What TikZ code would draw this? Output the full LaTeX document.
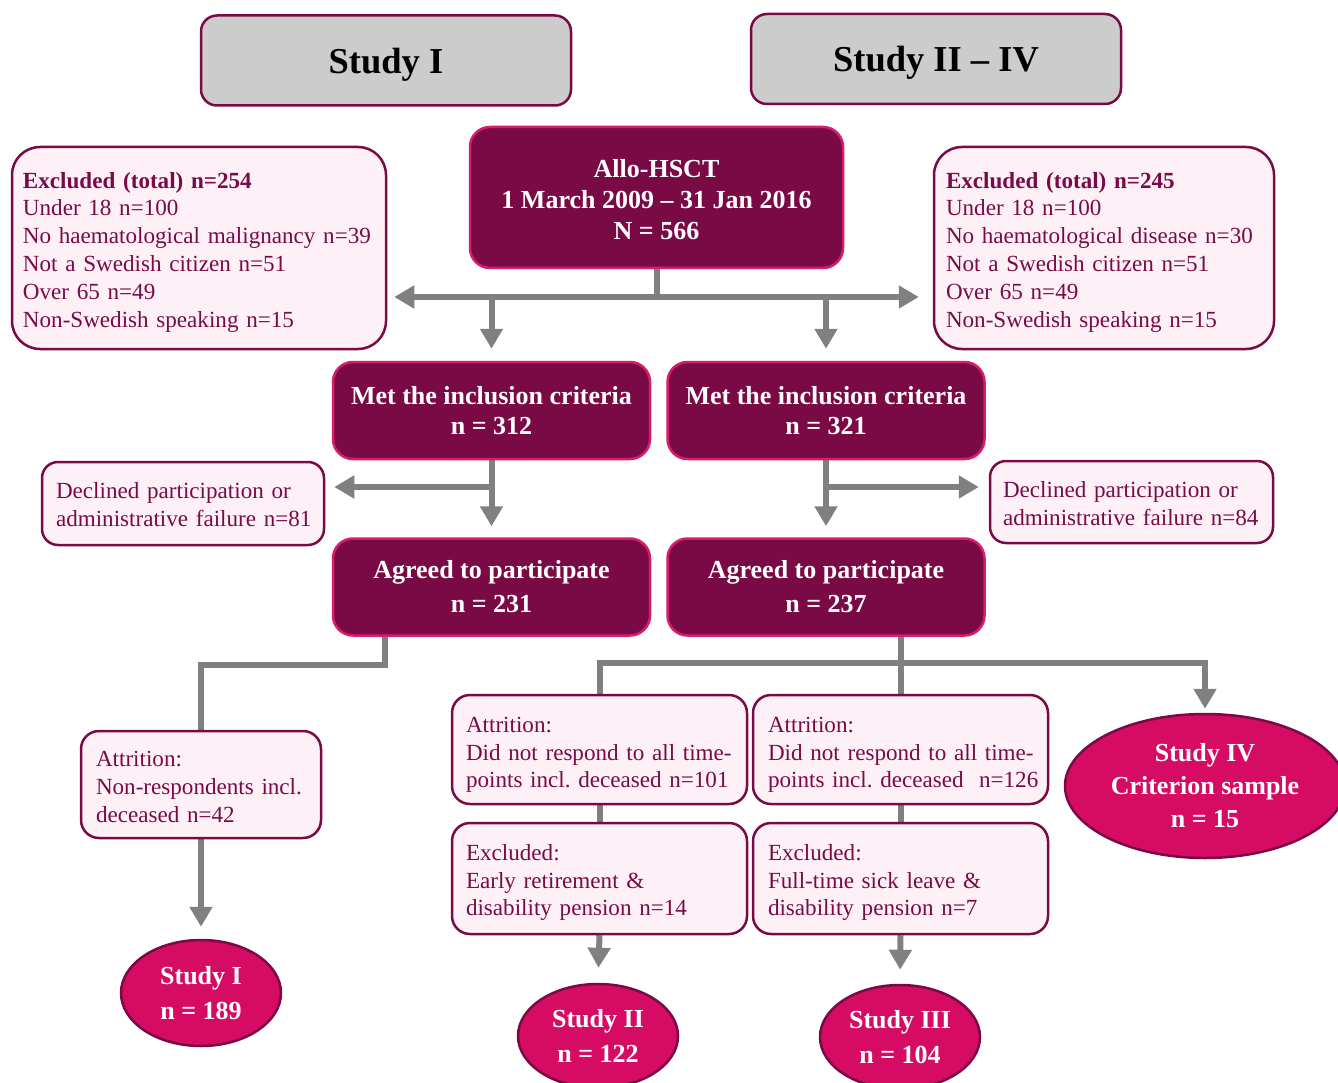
\documentclass[tikz,border=0pt]{standalone}
\usepackage{fontspec}
\setmainfont{Liberation Serif}
\usetikzlibrary{arrows.meta,shapes.geometric}

\definecolor{plum}{HTML}{7A0A46}
\definecolor{rose}{HTML}{D81B6A}
\definecolor{cerise}{HTML}{D60B63}
\definecolor{blush}{HTML}{FDF1F7}
\definecolor{headgray}{HTML}{CCCCCC}
\definecolor{flowgray}{HTML}{808080}

% first-line height, used to set where a text block sits in its box
\newcommand{\lead}[1]{\rule{0pt}{#1pt}}

\pgfdeclarelayer{bg}
\pgfsetlayers{bg,main}

\begin{document}
\begin{tikzpicture}[x=1pt,y=-1pt,
  header/.style={draw=plum, fill=headgray, line width=2.5pt, rounded corners=16pt,
    minimum width=370pt, minimum height=90pt, text=black, text depth=0pt,
    font=\fontsize{36.5}{40}\selectfont\bfseries},
  darkbox/.style={draw=rose, fill=plum, line width=2.5pt, rounded corners=20pt,
    minimum width=317pt, minimum height=97pt, inner sep=0pt,
    text=white, align=center, font=\fontsize{26}{30}\selectfont\bfseries},
  lightbox/.style={draw=plum, fill=blush, line width=2.5pt, rounded corners=18pt,
    inner ysep=0pt, text=plum, align=left,
    font=\fontsize{23.1}{27.8}\selectfont\frenchspacing},
  oval/.style={ellipse, draw=plum, fill=cerise, line width=2.5pt, inner sep=0pt,
    minimum width=160pt, minimum height=105pt,
    text=white, align=center, font=\fontsize{26}{35}\selectfont\bfseries},
  flow/.style={draw=flowgray, line width=6pt},
  arrowflow/.style={flow, -{Triangle[length=20pt,width=22pt]}},
  twoway/.style={flow, {Triangle[length=20pt,width=22pt]}-{Triangle[length=20pt,width=22pt]}},
]
\path[use as bounding box, clip] (0,0) rectangle (1338,1083);

% study headers
\node[header] (hdrI)  at (386,60.5) {Study I};
\node[header] (hdrII) at (936,59)   {Study II – IV};

% cohort
\node[darkbox, minimum width=373pt, minimum height=141pt, font=\fontsize{26}{31}\selectfont\bfseries]
  (allo) at (656.5,197.5) {\strut Allo-HSCT\\1 March 2009 – 31 Jan 2016\\N = 566};

% exclusions
\node[lightbox, rounded corners=28pt, minimum width=374pt, minimum height=202pt,
  text width=352pt, inner xsep=11pt] (exL) at (199,248)
  {\lead{24}\mbox{\textbf{Excluded (total) n=254}}\\\mbox{Under 18 n=100}\\
   \mbox{No haematological malignancy n=39}\\\mbox{Not a Swedish citizen n=51}\\
   \mbox{Over 65 n=49}\\\mbox{Non-Swedish speaking n=15}};
\node[lightbox, rounded corners=28pt, minimum width=340pt, minimum height=202pt,
  text width=316pt, inner xsep=12pt] (exR) at (1104,248)
  {\lead{24}\mbox{\textbf{Excluded (total) n=245}}\\\mbox{Under 18 n=100}\\
   \mbox{No haematological disease n=30}\\\mbox{Not a Swedish citizen n=51}\\
   \mbox{Over 65 n=49}\\\mbox{Non-Swedish speaking n=15}};

% inclusion
\node[darkbox] (metL) at (491.5,410.5) {Met the inclusion criteria\\n = 312};
\node[darkbox] (metR) at (826,410.5)   {Met the inclusion criteria\\n = 321};

% declined
\node[lightbox, rounded corners=16pt, minimum width=282pt, minimum height=83pt,
  text width=254pt, inner xsep=14pt] (declL) at (183,503.5)
  {\lead{19}\mbox{Declined participation or}\\\mbox{administrative failure n=81}};
\node[lightbox, rounded corners=16pt, minimum width=283pt, minimum height=82pt,
  text width=257pt, inner xsep=13pt] (declR) at (1131.5,502)
  {\lead{19}\mbox{Declined participation or}\\\mbox{administrative failure n=84}};

% participants
\node[darkbox, font=\fontsize{26}{34}\selectfont\bfseries] (agrL) at (491.5,587)
  {Agreed to participate\\n = 231};
\node[darkbox, font=\fontsize{26}{34}\selectfont\bfseries] (agrR) at (826,587)
  {Agreed to participate\\n = 237};

% attrition
\node[lightbox, minimum width=240pt, minimum height=107pt,
  text width=210pt, inner xsep=15pt] (attrL) at (201,784.5)
  {\lead{20}\mbox{Attrition:}\\\mbox{Non-respondents incl.}\\\mbox{deceased n=42}};
\node[lightbox, minimum width=295pt, minimum height=109pt,
  text width=267pt, inner xsep=14pt] (attrM) at (599.5,749.5)
  {\lead{26}\mbox{Attrition:}\\\mbox{Did not respond to all time-}\\\mbox{points incl. deceased n=101}};
\node[lightbox, minimum width=295pt, minimum height=109pt,
  text width=265pt, inner xsep=15pt] (attrR) at (900.5,749.5)
  {\lead{26}\mbox{Attrition:}\\\mbox{Did not respond to all time-}\\\mbox{points incl. deceased\ \ n=126}};

% further exclusions
\node[lightbox, minimum width=295pt, minimum height=111pt,
  text width=267pt, inner xsep=14pt] (exM) at (599.5,878.5)
  {\lead{24}\mbox{Excluded:}\\\mbox{Early retirement \&}\\\mbox{disability pension n=14}};
\node[lightbox, minimum width=295pt, minimum height=111pt,
  text width=265pt, inner xsep=15pt] (exR3) at (900.5,878.5)
  {\lead{24}\mbox{Excluded:}\\\mbox{Full-time sick leave \&}\\\mbox{disability pension n=7}};

% study samples
\node[oval, minimum height=106pt] (sI)   at (201,993)  {Study I\\n = 189};
\node[oval, minimum height=104pt] (sII)  at (598,1036) {Study II\\n = 122};
\node[oval, minimum height=104pt] (sIII) at (900,1037) {Study III\\n = 104};
\node[oval, minimum width=280pt, minimum height=144pt, font=\fontsize{26}{33}\selectfont\bfseries]
  (sIV) at (1205,786) {Study IV\\Criterion sample\\n = 15};

\begin{pgfonlayer}{bg}
  \fill[white] (0,0) rectangle (1338,1083);

  % cohort split
  \coordinate (j1) at (allo.south |- 0,297);
  \draw[flow] (allo.south) -- (j1);
  \draw[twoway, shorten <=7pt, shorten >=14pt] (j1 -| exL.east) -- (j1 -| exR.west);
  \draw[arrowflow, shorten >=12pt] (j1 -| metL.north) -- (metL.north);
  \draw[arrowflow, shorten >=12pt] (j1 -| metR.north) -- (metR.north);

  % participation, study I side
  \coordinate (j2) at (metL.south |- 0,487);
  \draw[arrowflow, shorten >=11pt] (metL.south) -- (agrL.north);
  \draw[arrowflow, shorten >=9pt] (j2) -- (j2 -| declL.east);

  % participation, study II-IV side
  \coordinate (j3) at (metR.south |- 0,487);
  \draw[arrowflow, shorten >=11pt] (metR.south) -- (agrR.north);
  \draw[arrowflow, shorten >=10pt] (j3) -- (j3 -| declR.west);

  % study I branch
  \draw[flow] (agrL.south -| 385,0) |- (attrL.north |- 0,665) -- (attrL.north);
  \draw[arrowflow, shorten >=12pt] (attrL.south) -- (sI.north);

  % study II-IV branches
  \coordinate (bar) at (0,663);
  \draw[flow] (agrR.south -| attrR.north) -- (attrR.north);
  \draw[arrowflow, shorten >=4pt] (attrM.north) -- (attrM.north |- bar)
    -- (sIV.north |- bar) -- (sIV.north);
  \draw[flow] (attrM.south) -- (exM.north);
  \draw[flow] (attrR.south) -- (exR3.north);
  \draw[arrowflow, shorten >=15pt] (exM.south) -- (sII.north);
  \draw[arrowflow, shorten >=14pt] (exR3.south) -- (sIII.north);
\end{pgfonlayer}
\end{tikzpicture}
\end{document}
